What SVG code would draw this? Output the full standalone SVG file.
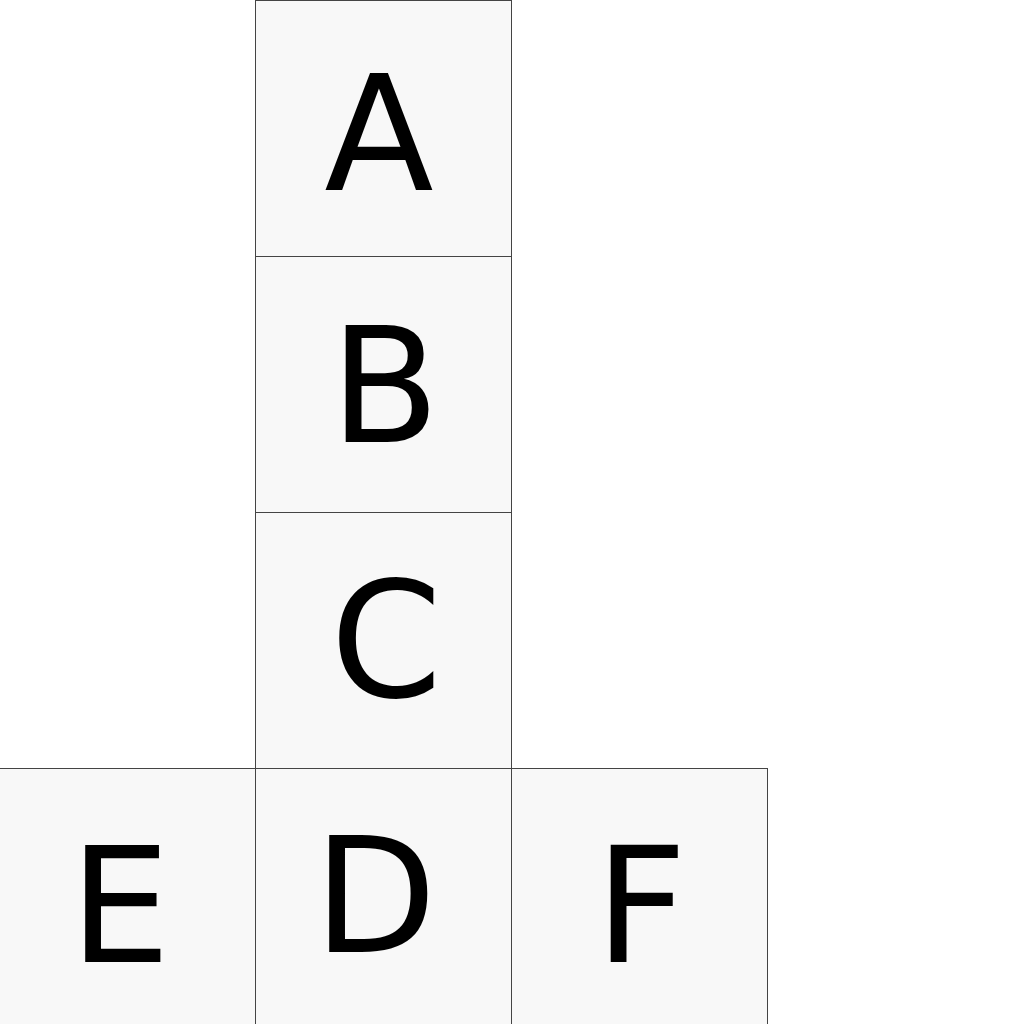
<svg xmlns="http://www.w3.org/2000/svg" width="1024" height="1024" viewBox="0 0 1024 1024">
<style>
.cell{fill:#f8f8f8;stroke:#444;stroke-width:1}
.lbl{font-family:"DejaVu Sans",sans-serif;font-size:160px;fill:#000;text-anchor:middle}
</style>
<rect width="1024" height="1024" fill="#fff"/>
<g id="A"><rect class="cell" x="255.5" y="0.5" width="256" height="256"/><text class="lbl" x="379" y="190">A</text></g>
<g id="B"><rect class="cell" x="255.5" y="256.5" width="256" height="256"/><text class="lbl" x="385" y="442">B</text></g>
<g id="C"><rect class="cell" x="255.5" y="512.5" width="256" height="256"/><text class="lbl" x="386" y="697">C</text></g>
<g id="E"><rect class="cell" x="-0.5" y="768.5" width="256" height="257"/><text class="lbl" x="120" y="962">E</text></g>
<g id="D"><rect class="cell" x="255.5" y="768.5" width="256" height="257"/><text class="lbl" x="375" y="952">D</text></g>
<g id="F"><rect class="cell" x="511.5" y="768.5" width="256" height="257"/><text class="lbl" x="641" y="962">F</text></g>
<g id="connectors"/>
</svg>
